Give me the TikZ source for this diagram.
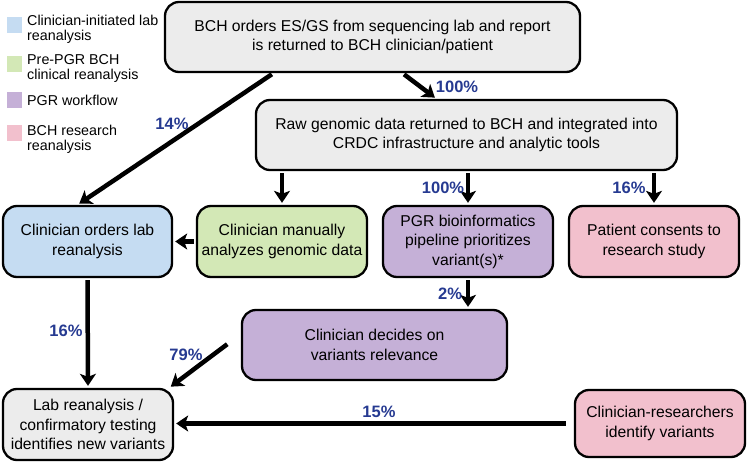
\documentclass[tikz,border=0pt]{standalone}
\usepackage{fontspec}
\setmainfont{Liberation Sans}
\usetikzlibrary{arrows.meta,positioning}
\definecolor{boxgray}{RGB}{236,236,236}
\definecolor{boxblue}{RGB}{197,220,242}
\definecolor{boxgreen}{RGB}{211,232,182}
\definecolor{boxpurple}{RGB}{197,176,215}
\definecolor{boxpink}{RGB}{242,192,205}
\definecolor{pctblue}{RGB}{38,58,145}

\begin{document}
\begin{tikzpicture}[
    x=1pt, y=-1pt,
    box/.style={draw, line width=2.3pt, rounded corners=14pt, align=center, inner sep=2pt, font=\fontsize{15.7}{19.5}\selectfont},
    arrow/.style={line width=4.5pt, -{Stealth[length=12pt,width=16pt,inset=3pt]}, shorten <=2pt, shorten >=2pt},
    pct/.style={font=\fontsize{16.5}{19}\selectfont\bfseries, text=pctblue, inner sep=0},
    keybox/.style={minimum width=15pt, minimum height=16pt, inner sep=0},
    keytext/.style={font=\fontsize{14.3}{15}\selectfont, align=left, anchor=west, inner sep=0}
]
    \useasboundingbox (0,0) rectangle (748,463);

    % Legend
    \node [keybox, fill=boxblue] (key_lab) at (14,25) {};
    \node [keytext] at (27,29) {Clinician-initiated lab\\reanalysis};
    \node [keybox, fill=boxgreen] (key_prepgr) at (14,64) {};
    \node [keytext] at (27,68) {Pre-PGR BCH\\clinical reanalysis};
    \node [keybox, fill=boxpurple] (key_pgr) at (14,100) {};
    \node [keytext] at (27,100) {PGR workflow};
    \node [keybox, fill=boxpink] (key_research) at (14,133) {};
    \node [keytext] at (27,139) {BCH research\\reanalysis};

    % Top rows
    \node [box, fill=boxgray, minimum width=415pt, minimum height=70pt] (bch_orders) at (372.5,37) {BCH orders ES/GS from sequencing lab and report\\is returned to BCH clinician/patient};
    \node [box, fill=boxgray, minimum width=421pt, minimum height=70pt] (raw_data) at (466.5,135) {Raw genomic data returned to BCH and integrated into\\CRDC infrastructure and analytic tools};

    % Middle row
    \node [box, fill=boxblue, minimum width=169pt, minimum height=71pt] (lab_order) at (87.5,241.5) {Clinician orders lab\\reanalysis};
    \node [box, fill=boxgreen, minimum width=170pt, minimum height=71pt] (manual) at (282,241.5) {Clinician manually\\analyzes genomic data};
    \node [box, fill=boxpurple, minimum width=170pt, minimum height=71pt] (pipeline) at (468,241.5) {PGR bioinformatics\\pipeline prioritizes\\variant(s)*};
    \node [box, fill=boxpink, minimum width=170pt, minimum height=71pt] (consent) at (654,241.5) {Patient consents to\\research study};

    % Bottom rows
    \node [box, fill=boxpurple, minimum width=265pt, minimum height=70pt] (decides) at (374.5,345) {Clinician decides on\\variants relevance};
    \node [box, fill=boxgray, minimum width=170pt, minimum height=71pt] (lab_testing) at (88,424.5) {Lab reanalysis /\\confirmatory testing\\identifies new variants};
    \node [box, fill=boxpink, minimum width=170pt, minimum height=67pt] (researchers) at (660,423.5) {Clinician-researchers\\identify variants};

    % Connectors
    \draw [arrow] ([xshift=30pt]bch_orders.south) -- ([xshift=-30pt]raw_data.north);
    \node [pct] at (457,87) {100\%};
    \draw [arrow] ([xshift=-99pt]bch_orders.south) -- ([xshift=-10pt]lab_order.north);
    \node [pct] at (172,124) {14\%};
    \draw [arrow] (raw_data.south -| manual.north) -- (manual.north);
    \draw [arrow] (raw_data.south -| pipeline.north) -- (pipeline.north);
    \node [pct] at (443,188) {100\%};
    \draw [arrow] (raw_data.south -| consent.north) -- (consent.north);
    \node [pct] at (629,188) {16\%};
    \draw [arrow] (manual.west) -- (lab_order.east);
    \draw [arrow] (pipeline.south) -- (pipeline.south |- decides.north);
    \node [pct] at (450,294) {2\%};
    \draw [arrow] (lab_order.south) -- (lab_testing.north);
    \node [pct] at (66,331) {16\%};
    \draw [arrow] ([xshift=-12pt,yshift=2pt]decides.west) -- ([xshift=-5pt]lab_testing.north east);
    \node [pct] at (186,355) {79\%};
    \draw [arrow] ([xshift=-6pt]researchers.west) -- (researchers.west -| lab_testing.east);
    \node [pct] at (379,412) {15\%};
\end{tikzpicture}
\end{document}
